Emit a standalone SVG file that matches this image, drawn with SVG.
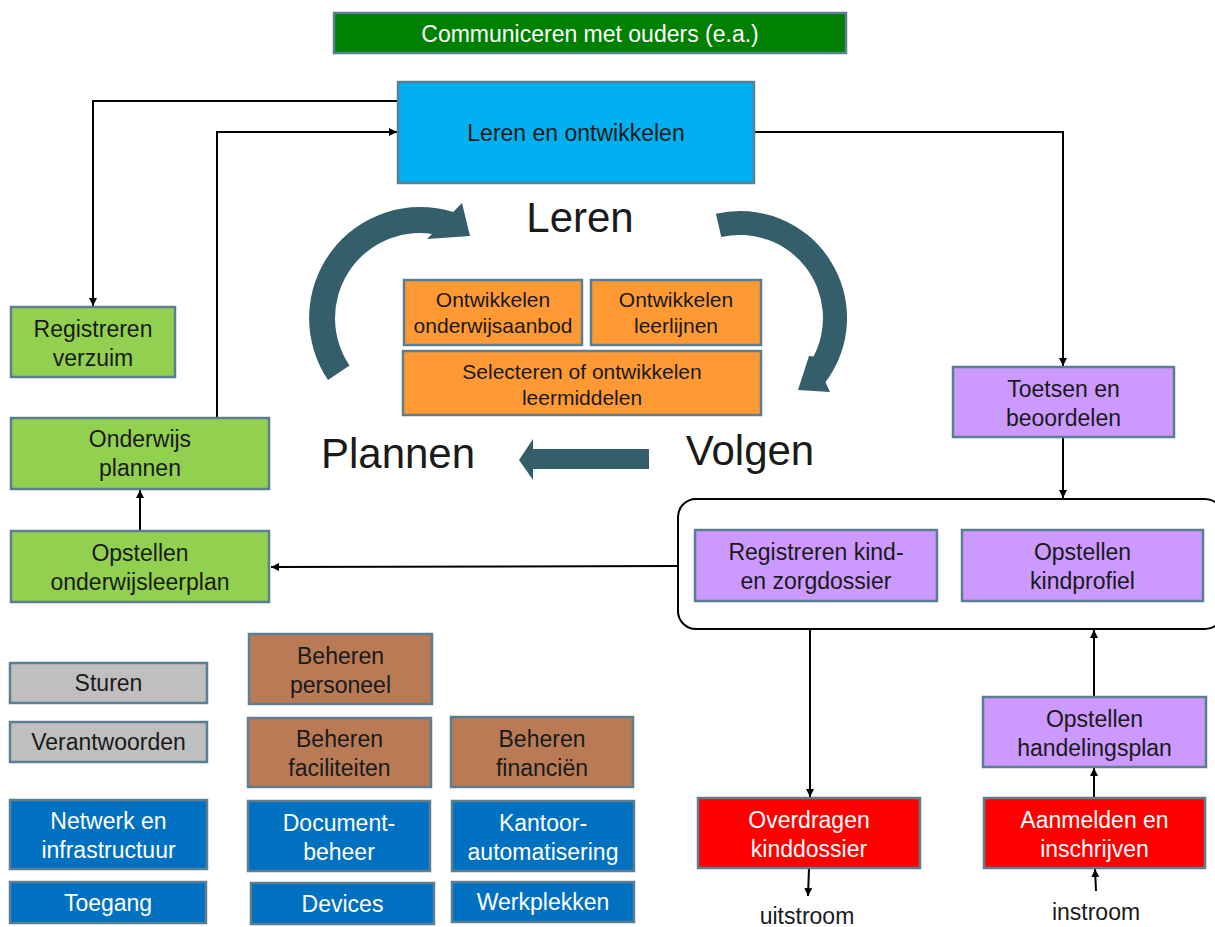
<svg xmlns="http://www.w3.org/2000/svg" width="1215" height="927" viewBox="0 0 1215 927">
<style>
.b{stroke:#5b7f90;stroke-width:2.5}
.t{font-family:"Liberation Sans",Arial,sans-serif;font-size:23px;fill:#1a1a1a;text-anchor:middle}
.w{fill:#ffffff}
.o{font-size:21px}
.big{font-size:42px}
.c{fill:none;stroke:#000;stroke-width:2}
.ca{marker-end:url(#ah)}
.arr{fill:#335e6a}
</style>
<defs>
<marker id="ah" markerWidth="8" markerHeight="8" refX="8" refY="4" orient="auto" markerUnits="userSpaceOnUse">
<path d="M0,0 L8,4 L0,8 z" fill="#000"/>
</marker>
</defs>
<rect width="1215" height="927" fill="#fff"/>

<g id="cycle">
<path class="arr" d="M 328 380 A 111 111 0 0 1 453.2 212.1 L 462 203 L 470 236 L 427 239 L 432 233.9 A 85 85 0 0 0 349.5 365.5 Z"/>
<path class="arr" d="M 715.9 213.7 A 107 107 0 0 1 825.5 382.3 L 830 392 L 798 390 L 809 356 L 813.5 356.5 A 83 83 0 0 0 721.3 237.1 Z"/>
<path class="arr" d="M 649 449 L 533 449 L 533 439 L 519 460 L 533 480 L 533 469 L 649 469 Z"/>
<text class="t big" x="580" y="232">Leren</text>
<text class="t big" x="398" y="468">Plannen</text>
<text class="t big" x="750" y="465">Volgen</text>
</g>

<g id="connectors">
<polyline class="c ca" points="398,101 93,101 93,306"/>
<polyline class="c ca" points="217,418 217,132 397,132"/>
<polyline class="c ca" points="754,132 1063,132 1063,366"/>
<polyline class="c ca" points="1063,437 1063,498"/>
<polyline class="c ca" points="678,566 271,567"/>
<polyline class="c ca" points="140,531 140,490"/>
<polyline class="c ca" points="810,629 810,797"/>
<polyline class="c ca" points="809,868 808,896"/>
<polyline class="c ca" points="1094,697 1094,630"/>
<polyline class="c ca" points="1094,798 1094,768"/>
<polyline class="c ca" points="1096,891 1095,869"/>
</g>

<g id="communiceren">
<rect class="b" x="334" y="13" width="512" height="40" fill="#008000"/>
<text class="t w" x="590" y="41.5">Communiceren met ouders (e.a.)</text>
</g>
<g id="leren-ontwikkelen">
<rect class="b" x="398" y="82" width="356" height="101" fill="#00b0f0"/>
<text class="t" x="576" y="141">Leren en ontwikkelen</text>
</g>
<g id="registreren-verzuim">
<rect class="b" x="11" y="307" width="164" height="70" fill="#92d050"/>
<text class="t" x="93" y="337">Registreren</text>
<text class="t" x="93" y="366">verzuim</text>
</g>
<g id="onderwijs-plannen">
<rect class="b" x="11" y="418" width="258" height="71" fill="#92d050"/>
<text class="t" x="140" y="447">Onderwijs</text>
<text class="t" x="140" y="476">plannen</text>
</g>
<g id="opstellen-onderwijsleerplan">
<rect class="b" x="11" y="531" width="258" height="71" fill="#92d050"/>
<text class="t" x="140" y="561">Opstellen</text>
<text class="t" x="140" y="590">onderwijsleerplan</text>
</g>

<g id="ontwikkelen-onderwijsaanbod">
<rect class="b" x="404" y="280" width="178" height="65" fill="#ff9933"/>
<text class="t o" x="493" y="307">Ontwikkelen</text>
<text class="t o" x="493" y="333">onderwijsaanbod</text>
</g>
<g id="ontwikkelen-leerlijnen">
<rect class="b" x="591" y="280" width="170" height="65" fill="#ff9933"/>
<text class="t o" x="676" y="307">Ontwikkelen</text>
<text class="t o" x="676" y="333">leerlijnen</text>
</g>
<g id="selecteren-leermiddelen">
<rect class="b" x="403" y="351" width="358" height="64" fill="#ff9933"/>
<text class="t o" x="582" y="379">Selecteren of ontwikkelen</text>
<text class="t o" x="582" y="405">leermiddelen</text>
</g>

<g id="toetsen">
<rect class="b" x="953" y="367" width="221" height="70" fill="#cc99ff"/>
<text class="t" x="1063.5" y="397">Toetsen en</text>
<text class="t" x="1063.5" y="426">beoordelen</text>
</g>
<g id="volgen-container">
<rect x="678" y="499" width="545" height="130" rx="18" fill="#fff" stroke="#000" stroke-width="2"/>
</g>
<g id="registreren-kind">
<rect class="b" x="695" y="530" width="242" height="71" fill="#cc99ff"/>
<text class="t" x="816" y="560">Registreren kind-</text>
<text class="t" x="816" y="589">en zorgdossier</text>
</g>
<g id="opstellen-kindprofiel">
<rect class="b" x="962" y="530" width="241" height="71" fill="#cc99ff"/>
<text class="t" x="1082.5" y="560">Opstellen</text>
<text class="t" x="1082.5" y="589">kindprofiel</text>
</g>
<g id="handelingsplan">
<rect class="b" x="983" y="697" width="223" height="70" fill="#cc99ff"/>
<text class="t" x="1094.5" y="727">Opstellen</text>
<text class="t" x="1094.5" y="756">handelingsplan</text>
</g>
<g id="overdragen">
<rect class="b" x="698" y="798" width="222" height="70" fill="#ff0000"/>
<text class="t w" x="809" y="828">Overdragen</text>
<text class="t w" x="809" y="857">kinddossier</text>
</g>
<g id="aanmelden">
<rect class="b" x="984" y="798" width="221" height="70" fill="#ff0000"/>
<text class="t w" x="1094.5" y="828">Aanmelden en</text>
<text class="t w" x="1094.5" y="857">inschrijven</text>
</g>
<g id="uitstroom"><text class="t" x="807" y="924">uitstroom</text></g>
<g id="instroom"><text class="t" x="1096" y="920">instroom</text></g>

<g id="sturen">
<rect class="b" x="10" y="663" width="197" height="40" fill="#bfbfbf"/>
<text class="t" x="108.5" y="691">Sturen</text>
</g>
<g id="verantwoorden">
<rect class="b" x="10" y="722" width="197" height="40" fill="#bfbfbf"/>
<text class="t" x="108.5" y="750">Verantwoorden</text>
</g>
<g id="netwerk">
<rect class="b" x="10" y="800" width="197" height="69" fill="#0070c0"/>
<text class="t w" x="108.5" y="829">Netwerk en</text>
<text class="t w" x="108.5" y="858">infrastructuur</text>
</g>
<g id="toegang">
<rect class="b" x="10" y="882" width="196" height="41" fill="#0070c0"/>
<text class="t w" x="108" y="910.5">Toegang</text>
</g>
<g id="beheren-personeel">
<rect class="b" x="249" y="634" width="183" height="70" fill="#b97a56"/>
<text class="t" x="340.5" y="664">Beheren</text>
<text class="t" x="340.5" y="693">personeel</text>
</g>
<g id="beheren-faciliteiten">
<rect class="b" x="248" y="718" width="183" height="69" fill="#b97a56"/>
<text class="t" x="339.5" y="747">Beheren</text>
<text class="t" x="339.5" y="776">faciliteiten</text>
</g>
<g id="beheren-financien">
<rect class="b" x="451" y="717" width="182" height="70" fill="#b97a56"/>
<text class="t" x="542" y="747">Beheren</text>
<text class="t" x="542" y="776">financiën</text>
</g>
<g id="documentbeheer">
<rect class="b" x="248" y="801" width="182" height="70" fill="#0070c0"/>
<text class="t w" x="339" y="831">Document-</text>
<text class="t w" x="339" y="860">beheer</text>
</g>
<g id="kantoorautomatisering">
<rect class="b" x="452" y="801" width="182" height="70" fill="#0070c0"/>
<text class="t w" x="543" y="831">Kantoor-</text>
<text class="t w" x="543" y="860">automatisering</text>
</g>
<g id="devices">
<rect class="b" x="251" y="883" width="183" height="41" fill="#0070c0"/>
<text class="t w" x="342.5" y="911.5">Devices</text>
</g>
<g id="werkplekken">
<rect class="b" x="452" y="882" width="182" height="40" fill="#0070c0"/>
<text class="t w" x="543" y="910">Werkplekken</text>
</g>
</svg>
